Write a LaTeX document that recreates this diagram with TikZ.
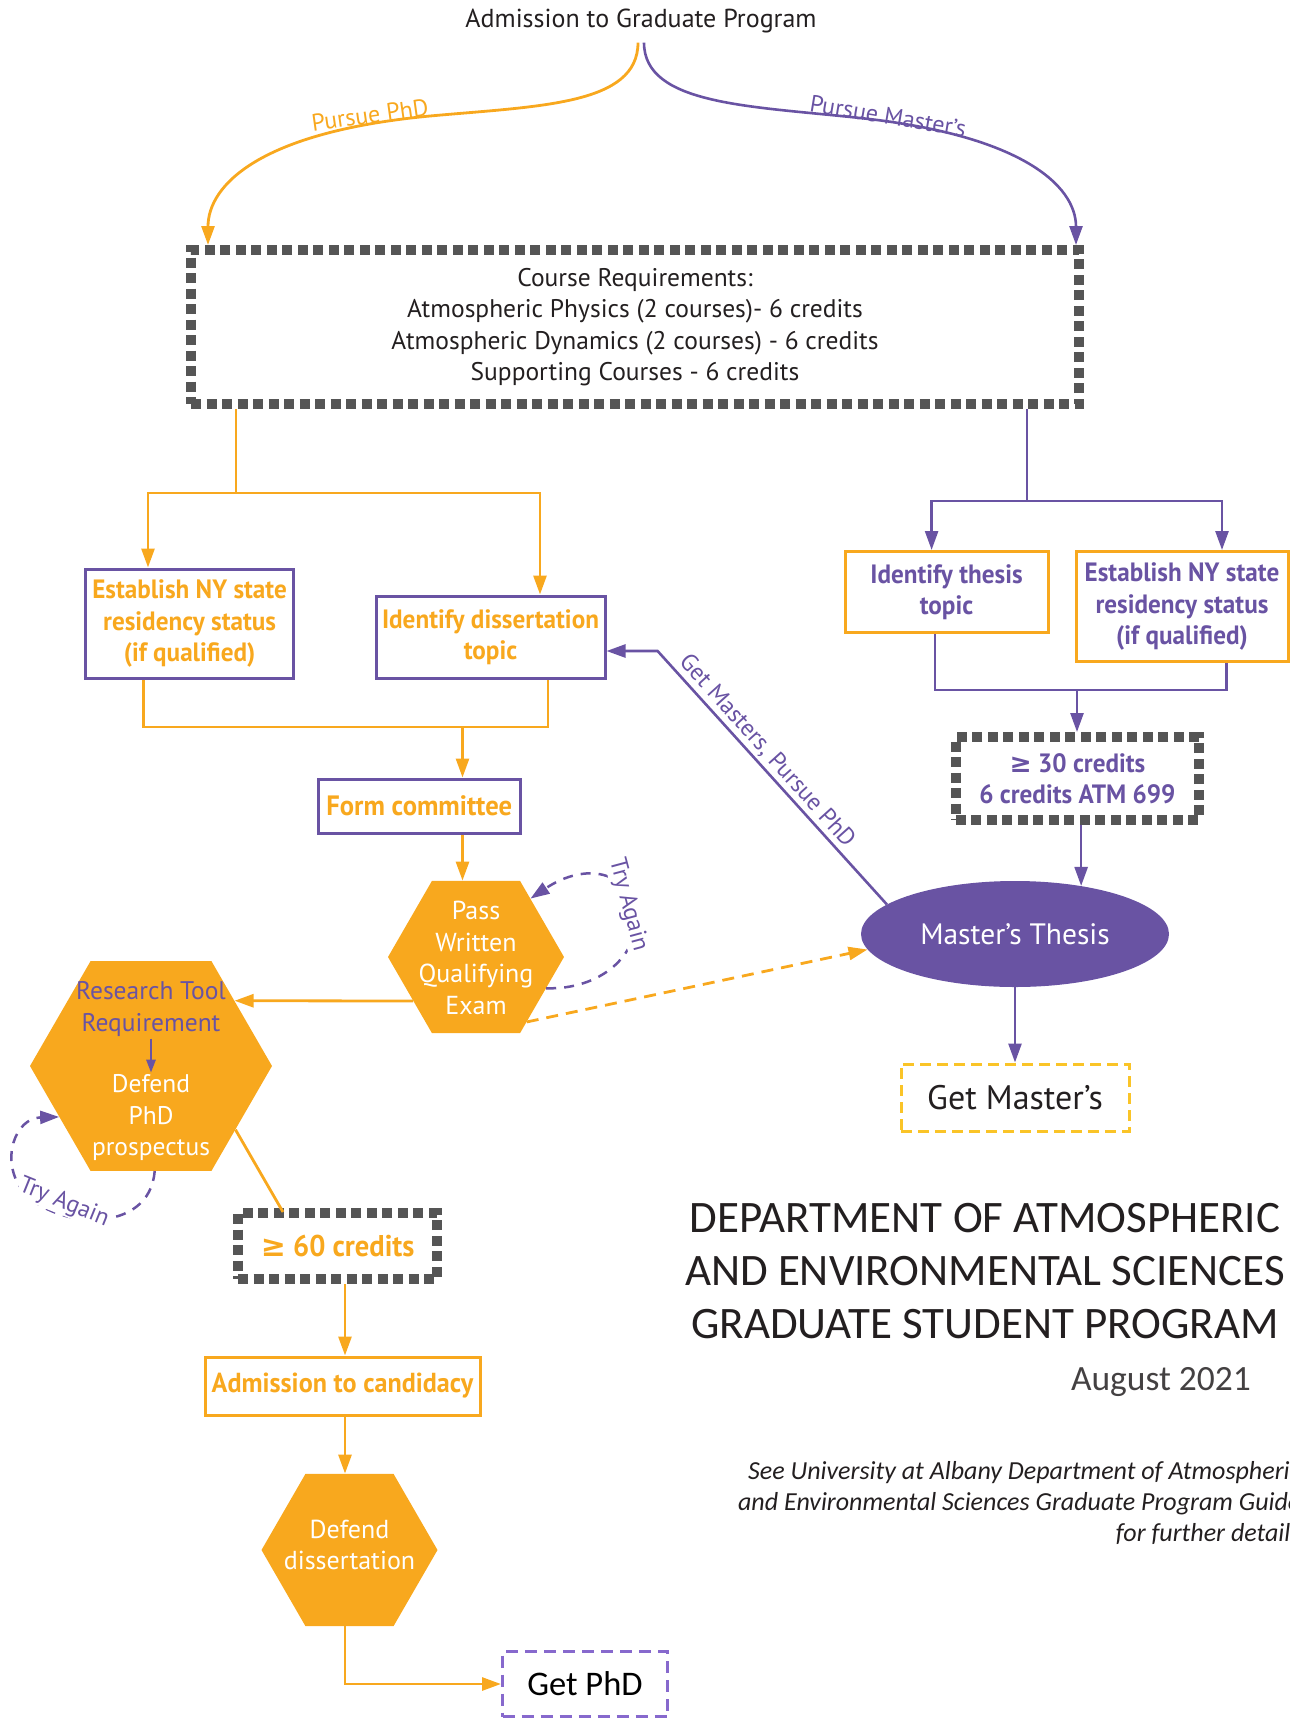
\documentclass[tikz,border=0pt]{standalone}
\usepackage{fontspec}
\setmainfont{PT Sans}
\newfontfamily\calfont{Carlito}
\newfontfamily\condfont[FakeStretch=0.95]{PT Sans}
\newfontfamily\symfont{DejaVu Sans}
\usetikzlibrary{arrows.meta,shapes.geometric}
\definecolor{aorange}{RGB}{248,168,30}
\definecolor{apurple}{RGB}{105,83,163}
\definecolor{agray}{RGB}{85,85,85}
\definecolor{ayellow}{RGB}{250,196,40}
\definecolor{alilac}{RGB}{135,105,205}
\definecolor{atext}{RGB}{35,31,32}
\newcommand{\fsz}[2]{\fontsize{#1}{#2}\selectfont}
\tikzset{
  arrowend/.style={-{Triangle[length=19pt,width=13pt]}},
  arrowboth/.style={{Triangle[length=19pt,width=13pt]}-{Triangle[length=19pt,width=13pt]}},
  smallarrow/.style={-{Triangle[length=13pt,width=9pt]}},
  oline/.style={draw=aorange, line width=2.8pt},
  pline/.style={draw=apurple, line width=2.6pt},
  graybox/.style={draw=agray, line width=10pt, dash pattern=on 10pt off 5.5pt, inner sep=0pt, align=center},
  pbox/.style={draw=apurple, line width=3pt, text=aorange, inner sep=0pt, align=center, font=\condfont\bfseries\fsz{26.5}{31.5}},
  obox/.style={draw=aorange, line width=3pt, text=apurple, inner sep=0pt, align=center, font=\condfont\bfseries\fsz{26.5}{31.5}},
  hexa/.style={regular polygon, regular polygon sides=6, fill=aorange, draw=none, inner sep=0pt},
  hext/.style={text=white, align=center, font=\fsz{26}{31.5}, inner sep=2pt},
  lbl/.style={font=\fsz{24}{28}, inner sep=1pt},
  tryl/.style={text=apurple, font=\fsz{24}{28}, fill=white, inner sep=1pt},
  tryloop/.style={draw=apurple, line width=2.5pt, dash pattern=on 10pt off 8pt},
}
\begin{document}
\begin{tikzpicture}[x=1pt,y=-1pt]
\useasboundingbox (0,0) rectangle (1290,1719);
\clip (0,0) rectangle (1290,1719);

% ---------- coordinates ----------
\coordinate (jP) at (236,493);
\coordinate (jPL) at (148,493);
\coordinate (jPR) at (540,493);
\coordinate (mL) at (143.6,727);
\coordinate (mR) at (548,727);
\coordinate (mF) at (462.5,727);
\coordinate (colP) at (345,0);
\coordinate (phdIn) at (208,0);
\coordinate (msIn) at (1076,0);
\coordinate (jM) at (1027,501);
\coordinate (jML) at (931.6,501);
\coordinate (jMR) at (1222,501);
\coordinate (mTL) at (935,690);
\coordinate (mTR) at (1226.7,690);
\coordinate (mTC) at (1077,690);
\coordinate (gm) at (657.6,651);
\coordinate (c60in) at (283,1212);

% ---------- nodes ----------
\node[font=\fsz{26}{30}, text=atext] (admit) at (641,21) {Admission to Graduate Program};

\node[graybox, minimum width=888pt, minimum height=154pt, font=\fsz{25.5}{31.5}, text=atext] (course) at (635,327)
  {Course Requirements:\\Atmospheric Physics (2 courses)- 6 credits\\Atmospheric Dynamics (2 courses) - 6 credits\\Supporting Courses - 6 credits};

\node[pbox, minimum width=208pt, minimum height=109pt] (estL) at (189.6,623.5) {Establish NY state\\residency status\\(if qualified)};
\node[pbox, minimum width=229pt, minimum height=82pt] (dissert) at (490.5,637) {Identify dissertation\\topic};
\node[pbox, minimum width=202pt, minimum height=54pt, font=\condfont\bfseries\fsz{28}{31.5}] (form) at (419.3,806) {Form committee};

\node[hexa, minimum size=176pt] (hexQ) at (476,957) {};
\node[hext] (hexQt) at (476,958) {Pass\\Written\\Qualifying\\Exam};

\node[hexa, minimum size=242pt] (hexR) at (151,1066) {};
\node[hext, text=apurple, font=\fsz{25.5}{31.5}] (rtr) at (151,1009) {Research Tool\\Requirement};
\node[hext, font=\fsz{25.5}{31.5}] (dpp) at (151,1118) {Defend\\PhD\\prospectus};

\node[graybox, minimum width=199pt, minimum height=66pt, text=aorange, font=\condfont\bfseries\fsz{30}{34}] (cr60) at (337.6,1246) {{\symfont\bfseries ≥} 60 credits};

\node[draw=aorange, line width=3pt, text=aorange, inner sep=0pt, font=\condfont\bfseries\fsz{27.5}{31}, minimum width=275pt, minimum height=58pt] (cand) at (342.5,1386) {Admission to candidacy};

\node[hexa, minimum size=176pt] (hexD) at (349.5,1550) {};
\node[hext] (hexDt) at (349.5,1545) {Defend\\dissertation};

\node[draw=alilac, line width=3pt, dash pattern=on 12pt off 7pt, minimum width=165pt, minimum height=65pt, inner sep=0pt, font=\calfont\fsz{34.5}{40}, text=black] (getphd) at (585,1684) {Get PhD};

\node[obox, minimum width=203pt, minimum height=81pt] (thesisT) at (946.5,592) {Identify thesis\\topic};
\node[obox, minimum width=212pt, minimum height=110pt] (estR) at (1182,606.5) {Establish NY state\\residency status\\(if qualified)};

\node[graybox, minimum width=243pt, minimum height=83pt, text=apurple, font=\condfont\bfseries\fsz{26.5}{31}] (cr30) at (1077.4,778.5) {{\symfont\bfseries ≥} 30 credits\\6 credits ATM 699};

\node[ellipse, fill=apurple, minimum width=308pt, minimum height=106pt, inner sep=0pt, text=white, font=\fsz{29.5}{33}] (thesis) at (1015,934) {Master’s Thesis};

\node[draw=ayellow, line width=3pt, dash pattern=on 11pt off 6pt, minimum width=228pt, minimum height=67pt, inner sep=0pt, font=\fsz{34}{38}, text=atext] (getms) at (1015,1097.5) {Get Master’s};

\node[font=\calfont\fsz{45}{52.6}, align=center, text=atext] (title) at (985,1271) {DEPARTMENT OF ATMOSPHERIC\\AND ENVIRONMENTAL SCIENCES\\GRADUATE STUDENT PROGRAM};
\node[font=\calfont\fsz{35.5}{40}, text=atext!85] (date) at (1161,1382) {August 2021};
\node[font=\calfont\itshape\fsz{26}{31}, align=right, anchor=east, text=atext] (note) at (1304,1503)
  {See University at Albany Department of Atmospheric\\and Environmental Sciences Graduate Program Guide\\for further details};

% ---------- top curves ----------
\draw[oline, arrowend] ([xshift=-3pt,yshift=-6pt]admit.south) .. controls (638,105) and (540,106) .. (430,116) .. controls (260,132) and (208,185) .. (course.north -| phdIn);
\draw[pline, arrowend] ([xshift=3pt,yshift=-6pt]admit.south) .. controls (644,105) and (750,106) .. (860,118) .. controls (1020,135) and (1076,185) .. (course.north -| msIn);
\node[lbl, text=aorange, rotate=8] (lphd) at (370,115) {Pursue PhD};
\node[lbl, text=apurple, rotate=-9.5] (lms) at (888,116) {Pursue Master’s};

% ---------- PhD branch ----------
\draw[oline] (course.south -| jP) -- (jP);
\draw[oline, arrowboth] (jPL |- estL.north) -- (jPL) -- (jPR) -- (jPR |- dissert.north);
\draw[oline] (estL.south -| mL) -- (mL) -- (mR) -- (dissert.south -| mR);
\draw[oline, arrowend] (mF) -- (form.north -| mF);
\draw[oline, arrowend] (form.south -| mF) -- (hexQ.north -| mF);
\draw[oline, arrowend] (hexQ.215) -- (hexR.38);
\draw[tryloop, arrowend] (hexQ.336) .. controls (600,990) and (640,955) .. (635,915) .. controls (630,870) and (585,862) .. (hexQ.47);
\node[tryl, rotate=-75] (ta1) at (628,905) {Try Again};
\draw[oline, dash pattern=on 12pt off 8pt, arrowend] (hexQ.308) -- (thesis.186);
\draw[pline, smallarrow] (rtr.south) -- (dpp.north);
\draw[tryloop, arrowend] (hexR.272) .. controls (150,1235) and (55,1230) .. (22,1190) .. controls (0,1160) and (15,1118) .. (hexR.209);
\node[tryl, rotate=-22] (ta2) at (64,1203) {Try Again};
\draw[oline] (hexR.323) -- (c60in);
\draw[oline, arrowend] (cr60.south -| colP) -- (cand.north -| colP);
\draw[oline, arrowend] (cand.south -| colP) -- (hexD.north -| colP);
\draw[oline, arrowend] (hexD.south -| colP) |- (getphd.west);

% ---------- Master's branch ----------
\draw[pline] (course.south -| jM) -- (jM);
\draw[pline, arrowboth] (jML |- thesisT.north) -- (jML) -- (jMR) -- (jMR |- estR.north);
\draw[pline] (thesisT.south -| mTL) -- (mTL) -- (mTR) -- (estR.south -| mTR);
\draw[pline, arrowend] (mTC) -- (mTC |- cr30.north);
\draw[pline, arrowend] (cr30.south -| thesis.36) -- (thesis.36);
\draw[pline, arrowend] (thesis.south) -- (getms.north);
\draw[pline, arrowend] (thesis.167) -- (gm) -- (gm -| dissert.east);
\node[lbl, text=apurple, rotate=-48] (lgm) at (767,751) {Get Masters, Pursue PhD};
\end{tikzpicture}
\end{document}
